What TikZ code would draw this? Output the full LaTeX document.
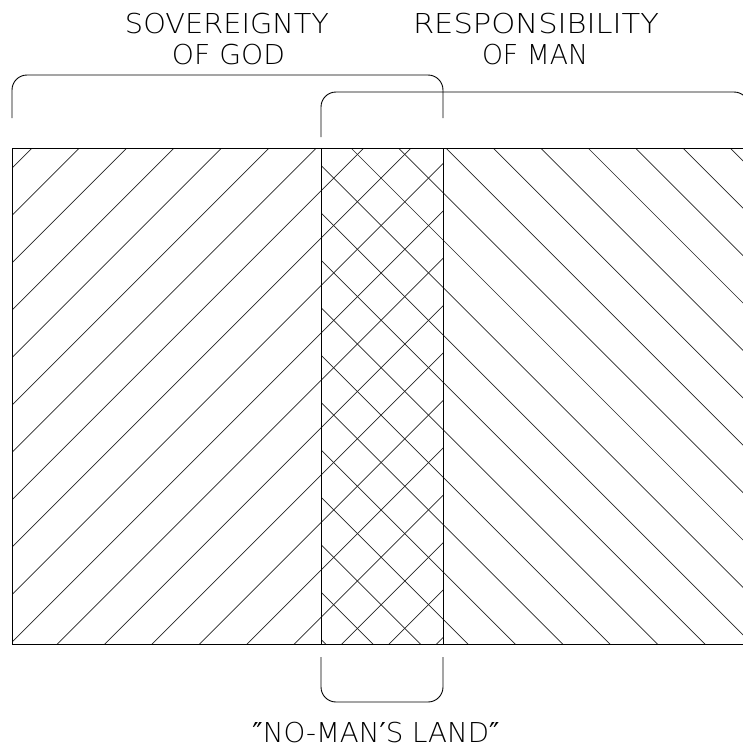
\documentclass[tikz,border=0pt]{standalone}
\usepackage{fontspec}
\usepackage{graphicx}
\newfontfamily\cadfont{DejaVu Sans ExtraLight}
\newfontfamily\primefont{DejaVu Sans}
\newcommand{\cadtxt}[2]{\resizebox{#1}{\height}{\fontsize{27.4pt}{30pt}\selectfont\cadfont #2}}
\tikzset{
  outline/.style={draw=black, line width=0.9pt},
  hatch/.style={draw=black!85, line width=0.7pt},
  bracket/.style={draw=black, line width=0.9pt, rounded corners=15pt},
  label/.style={inner sep=0pt, anchor=base}
}
\begin{document}
\begin{tikzpicture}[x=1pt,y=-1pt]
\useasboundingbox (0,0) rectangle (743,748);
\fill[white] (0,0) rectangle (743,748);
\clip (0,0) rectangle (743,748);
% hatching
\begin{scope}
  \clip (12,148) rectangle (443,644);
  \foreach \k in {-1,...,20}{
    \pgfmathsetmacro{\c}{180+47.4*\k}
    \draw[hatch] ({\c-700},700) -- ({\c-100},100);
  }
\end{scope}
\begin{scope}
  \clip (321,148) rectangle (760,644);
  \foreach \j in {-12,...,9}{
    \pgfmathsetmacro{\c}{203+47.4*\j}
    \draw[hatch] ({\c+100},100) -- ({\c+700},700);
  }
\end{scope}
% outlines
\draw[outline] (12,148) rectangle (760,644);
\draw[outline] (321,148) -- (321,644);
\draw[outline] (443,148) -- (443,644);
% brackets
\coordinate (b1a) at (12,118);  \coordinate (b1b) at (443,118);
\coordinate (b2a) at (321,137); \coordinate (b2b) at (749,137);
\coordinate (b3a) at (321,657); \coordinate (b3b) at (443,657);
\draw[bracket] (b1a) -- (12,75) -- (443,75) -- (b1b);
\draw[bracket] (b2a) -- (321,92) -- (749,92) -- (b2b);
\draw[bracket] (b3a) -- (321,702) -- (443,702) -- (b3b);
% labels
\node[label] (sov) at (227,33) {\cadtxt{204pt}{SOVEREIGNTY}};
\node[label] (ofgod) at (228.5,64) {\cadtxt{113pt}{OF GOD}};
\node[label] (resp) at (536,33) {\cadtxt{246pt}{RESPONSIBILITY}};
\node[label] (ofman) at (535,64) {\cadtxt{106pt}{OF MAN}};
\node[label] (nml) at (376,742) {\cadtxt{247pt}{{\primefont ″}NO-MAN{\primefont ′}S LAND{\primefont ″}}};
\end{tikzpicture}
\end{document}
